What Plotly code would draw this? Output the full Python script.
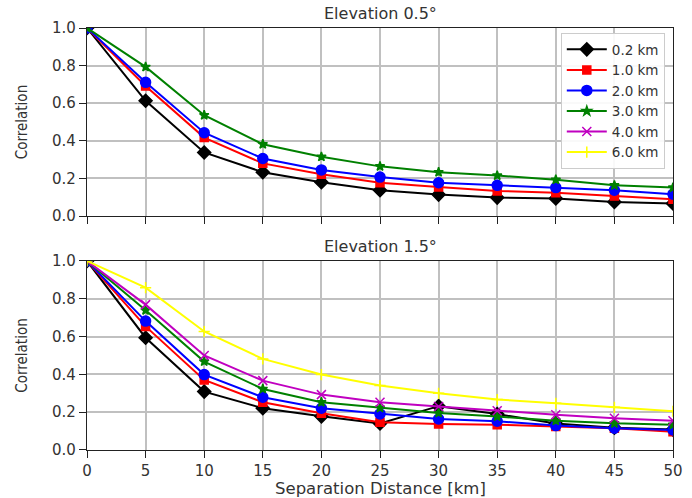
import plotly.graph_objects as go
from plotly.subplots import make_subplots

distance = [0, 5, 10, 15, 20, 25, 30, 35, 40, 45, 50]
heights = ["0.2 km", "1.0 km", "2.0 km", "3.0 km", "4.0 km", "6.0 km"]

# Elevation 0.5 deg (4.0 km and 6.0 km not drawn in this panel)
e05_02 = [1.0, 0.613, 0.338, 0.233, 0.180, 0.137, 0.114, 0.098, 0.093, 0.075, 0.067]
e05_10 = [1.0, 0.692, 0.417, 0.280, 0.222, 0.177, 0.154, 0.133, 0.124, 0.107, 0.089]
e05_20 = [1.0, 0.711, 0.443, 0.306, 0.245, 0.207, 0.177, 0.163, 0.151, 0.137, 0.116]
e05_30 = [1.0, 0.793, 0.536, 0.382, 0.315, 0.264, 0.233, 0.215, 0.193, 0.163, 0.151]
e05_40 = []
e05_60 = []

# Elevation 1.5 deg
e15_02 = [1.0, 0.594, 0.309, 0.221, 0.178, 0.140, 0.232, 0.190, 0.140, 0.118, 0.108]
e15_10 = [1.0, 0.654, 0.371, 0.253, 0.194, 0.147, 0.138, 0.134, 0.124, 0.115, 0.097]
e15_20 = [1.0, 0.682, 0.399, 0.279, 0.221, 0.191, 0.164, 0.152, 0.129, 0.115, 0.106]
e15_30 = [1.0, 0.739, 0.468, 0.323, 0.253, 0.223, 0.196, 0.177, 0.155, 0.141, 0.134]
e15_40 = [1.0, 0.769, 0.500, 0.367, 0.293, 0.253, 0.230, 0.208, 0.187, 0.168, 0.155]
e15_60 = [1.0, 0.859, 0.627, 0.482, 0.399, 0.341, 0.300, 0.267, 0.247, 0.226, 0.205]

panel_titles = ["Elevation 0.5°", "Elevation 1.5°"]
x_title = "Separation Distance [km]"
threshold = 0.2

colors = ["black", "red", "blue", "green", "#c000c0", "yellow"]
symbols = ["diamond", "square", "circle", "star", "x-thin", "cross-thin"]
sizes = [10, 8, 10, 7, 9, 8]

panels = [
    [e05_02, e05_10, e05_20, e05_30, e05_40, e05_60],
    [e15_02, e15_10, e15_20, e15_30, e15_40, e15_60],
]

fig = make_subplots(rows=2, cols=1, shared_xaxes=False, vertical_spacing=0.107)

for r, series in enumerate(panels, start=1):
    for i, vals in enumerate(series):
        if not vals:
            continue
        xs = distance[:len(vals)]
        fig.add_trace(go.Scatter(
            x=xs, y=vals, mode="lines+markers", name=heights[i],
            line=dict(color=colors[i], width=2),
            marker=dict(symbol=symbols[i], size=sizes[i], color=colors[i],
                        line=dict(color=colors[i], width=1.5)),
            showlegend=(r == 2), legendgroup=heights[i]), row=r, col=1)
    fig.add_shape(type="line", xref="x domain" if r == 1 else "x2 domain",
                  yref="y" if r == 1 else "y2", x0=0, x1=1, y0=threshold, y1=threshold,
                  line=dict(color="black", width=1.2), layer="below")

fontfam = "DejaVu Sans, sans-serif"
axis_common = dict(showline=True, linecolor="#222", linewidth=1.2, mirror=True,
                   showgrid=True, gridcolor="#c0c0c0", gridwidth=1.5,
                   ticks="outside", ticklen=7, tickcolor="#222", zeroline=False,
                   automargin=False,
                   tickfont=dict(family=fontfam, size=15, color="#333"))
for ax in ["xaxis", "xaxis2"]:
    fig.layout[ax].update(range=[0, 50], tickvals=distance, **axis_common)
fig.layout.xaxis.update(showticklabels=False)
for ax in ["yaxis", "yaxis2"]:
    fig.layout[ax].update(range=[0, 1], tickvals=[0, 0.2, 0.4, 0.6, 0.8, 1.0],
                          tickformat=".1f",
                          title=dict(text="Correlation", standoff=20,
                                     font=dict(family="DejaVu Sans Condensed, DejaVu Sans", size=15, color="#333")),
                          **axis_common)
fig.layout.yaxis.domain = [0.5545, 1.0]
fig.layout.yaxis2.domain = [0.0, 0.4479]

fig.add_annotation(text=panel_titles[0], xref="paper", yref="paper", x=0.5, y=1.0,
                   yanchor="bottom", yshift=3, showarrow=False,
                   font=dict(family=fontfam, size=16, color="#333"))
fig.add_annotation(text=panel_titles[1], xref="paper", yref="paper", x=0.5, y=0.4479,
                   yanchor="bottom", yshift=3, showarrow=False,
                   font=dict(family=fontfam, size=16, color="#333"))
fig.add_annotation(text=x_title, xref="paper", yref="paper", x=0.5, y=0.0,
                   yanchor="middle", yshift=-38, showarrow=False,
                   font=dict(family=fontfam, size=16.5, color="#333"))

fig.update_layout(
    width=692, height=498,
    margin=dict(l=87, r=19, t=28, b=48),
    paper_bgcolor="white", plot_bgcolor="white",
    legend=dict(x=0.986, y=0.988, xanchor="right", yanchor="top",
                bgcolor="rgba(255,255,255,0.9)", bordercolor="#ccc", borderwidth=1,
                font=dict(family=fontfam, size=13.5, color="#333"),
                itemwidth=40, tracegroupgap=0),
)

fig.write_html("out.html")
